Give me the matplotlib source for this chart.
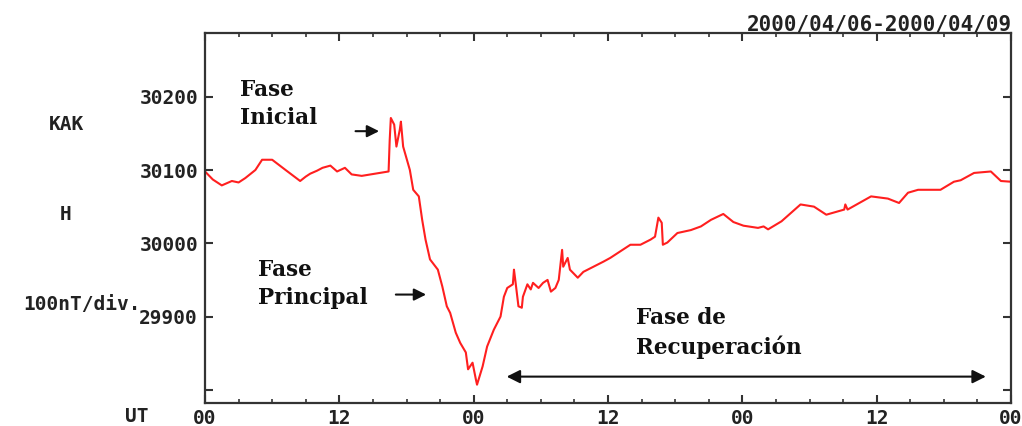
import numpy as np
import matplotlib
matplotlib.use("Agg")
from matplotlib import pyplot as plt

# horas UT desde 2000/04/06 00:00 y componente H (nT) en KAK
horas = [0, 0.7, 1.5, 2.4, 3.0, 3.6, 4.5, 5.1, 6.0, 7.2, 8.5, 9.0, 9.4, 10.0, 10.5,
         11.2, 11.8, 12.5, 13.1, 14.0, 15.2, 16.4, 16.5, 16.6, 16.9, 17.1, 17.4,
         17.5, 17.7, 18.3, 18.6, 19.1, 19.4, 19.7, 20.1, 20.6, 20.8, 21.2, 21.6,
         21.9, 22.4, 22.8, 23.3, 23.5, 23.9, 24.2, 24.3, 24.8, 25.2, 25.8, 26.4,
         26.7, 27.0, 27.5, 27.6, 27.7, 28.0, 28.3, 28.4, 28.8, 29.1, 29.3, 29.8,
         30.2, 30.6, 30.9, 31.3, 31.6, 31.9, 32.0, 32.4, 32.6, 33.3, 33.8, 34.7,
         35.6, 36.2, 37.1, 38.0, 38.9, 39.8, 40.2, 40.5, 40.8, 40.9, 41.3, 42.2,
         43.4, 44.3, 45.2, 46.3, 47.2, 48.1, 49.4, 49.9, 50.3, 51.5, 53.2, 54.4,
         55.5, 57.1, 57.2, 57.4, 59.5, 61.0, 62.0, 62.8, 63.7, 65.7, 66.9, 67.5,
         68.7, 70.2, 71.1, 72.0]
h_nt = [30098, 30087, 30079, 30085, 30083, 30089, 30100, 30114, 30114, 30100,
        30085, 30091, 30095, 30099, 30103, 30106, 30098, 30103, 30094, 30092,
        30095, 30098, 30141, 30171, 30162, 30132, 30155, 30166, 30132, 30100,
        30073, 30064, 30032, 30005, 29978, 29968, 29964, 29941, 29914, 29905,
        29878, 29864, 29851, 29828, 29837, 29814, 29807, 29832, 29859, 29882,
        29900, 29927, 29939, 29944, 29964, 29952, 29914, 29912, 29927, 29944,
        29937, 29946, 29939, 29946, 29950, 29934, 29939, 29950, 29991, 29968,
        29980, 29964, 29953, 29961, 29968, 29975, 29980, 29989, 29998, 29998,
        30005, 30009, 30035, 30028, 29998, 30001, 30014, 30018, 30023, 30032,
        30040, 30029, 30024, 30021, 30023, 30019, 30030, 30053, 30050, 30039,
        30046, 30053, 30046, 30064, 30061, 30055, 30069, 30073, 30073, 30084,
        30086, 30096, 30098, 30085, 30084]

etiquetas_x = ['00', '12', '00', '12', '00', '12', '00']
niveles_y = [29800, 29900, 30000, 30100, 30200]
etiquetas_y = ['', '29900', '30000', '30100', '30200']

W, H = 1022, 426
fig = plt.figure(figsize=(W / 100, H / 100), dpi=100)
ax = fig.add_axes([205 / W, 1 - 403 / H, 806 / W, 370 / H])

ax.plot(horas, h_nt, color='#ff1f1f', lw=1.5)

ax.set_xlim(0, 72)
ax.set_ylim(29782, 30287)

mono = dict(family='DejaVu Sans Mono', weight='bold', size=14, color='#222222')
ax.set_xticks(np.arange(0, 73, 12))
ax.set_xticklabels(etiquetas_x, **mono)
ax.set_xticks(np.arange(0, 73, 3), minor=True)
ax.set_yticks(niveles_y)
ax.set_yticklabels(etiquetas_y, **mono)
ax.tick_params(axis='both', which='major', direction='in', length=6, width=1.5,
               colors='#333333', top=True, right=True, pad=5)
ax.tick_params(axis='x', which='minor', direction='in', length=3, width=1.2,
               colors='#333333', top=True)
ax.tick_params(axis='x', which='major', pad=4)
for lab in ax.get_xticklabels() + ax.get_yticklabels():
    lab.set_color('#222222')
for s in ax.spines.values():
    s.set_linewidth(1.6)
    s.set_color('#333333')

# textos del magnetograma
fig.text(66 / W, 1 - 124 / H, 'KAK', ha='center', va='center', **mono)
fig.text(66 / W, 1 - 215 / H, 'H', ha='center', va='center', **mono)
fig.text(82 / W, 1 - 304 / H, '100nT/div.', ha='center', va='center', **mono)
fig.text(137 / W, 1 - 417 / H, 'UT', ha='center', va='center', **mono)
fig.text(1012 / W, 1 - 31 / H, '2000/04/06-2000/04/09', ha='right',
         va='baseline', family='DejaVu Sans Mono', weight='bold', size=15,
         color='#222222')

# fases de la tormenta
serif = dict(family='DejaVu Serif', weight='bold', size=15.5, color='#111111',
             linespacing=1.35)
ax.text(3.1, 30190, 'Fase\nInicial', ha='left', va='center', **serif)
ax.text(4.7, 29944, 'Fase\nPrincipal', ha='left', va='center', **serif)
ax.text(38.5, 29878, 'Fase de\nRecuperación', ha='left', va='center', **serif)

flecha = dict(arrowstyle='-|>', color='#111111', lw=1.5, mutation_scale=18)
ax.annotate('', xy=(15.8, 30153), xytext=(13.2, 30153), arrowprops=flecha)
ax.annotate('', xy=(20.0, 29930), xytext=(16.8, 29930), arrowprops=flecha)
ax.annotate('', xy=(70.0, 29818), xytext=(26.7, 29818),
            arrowprops=dict(arrowstyle='<|-|>', color='#111111', lw=1.5,
                            mutation_scale=20))

fig.savefig('out.png', dpi=100)
